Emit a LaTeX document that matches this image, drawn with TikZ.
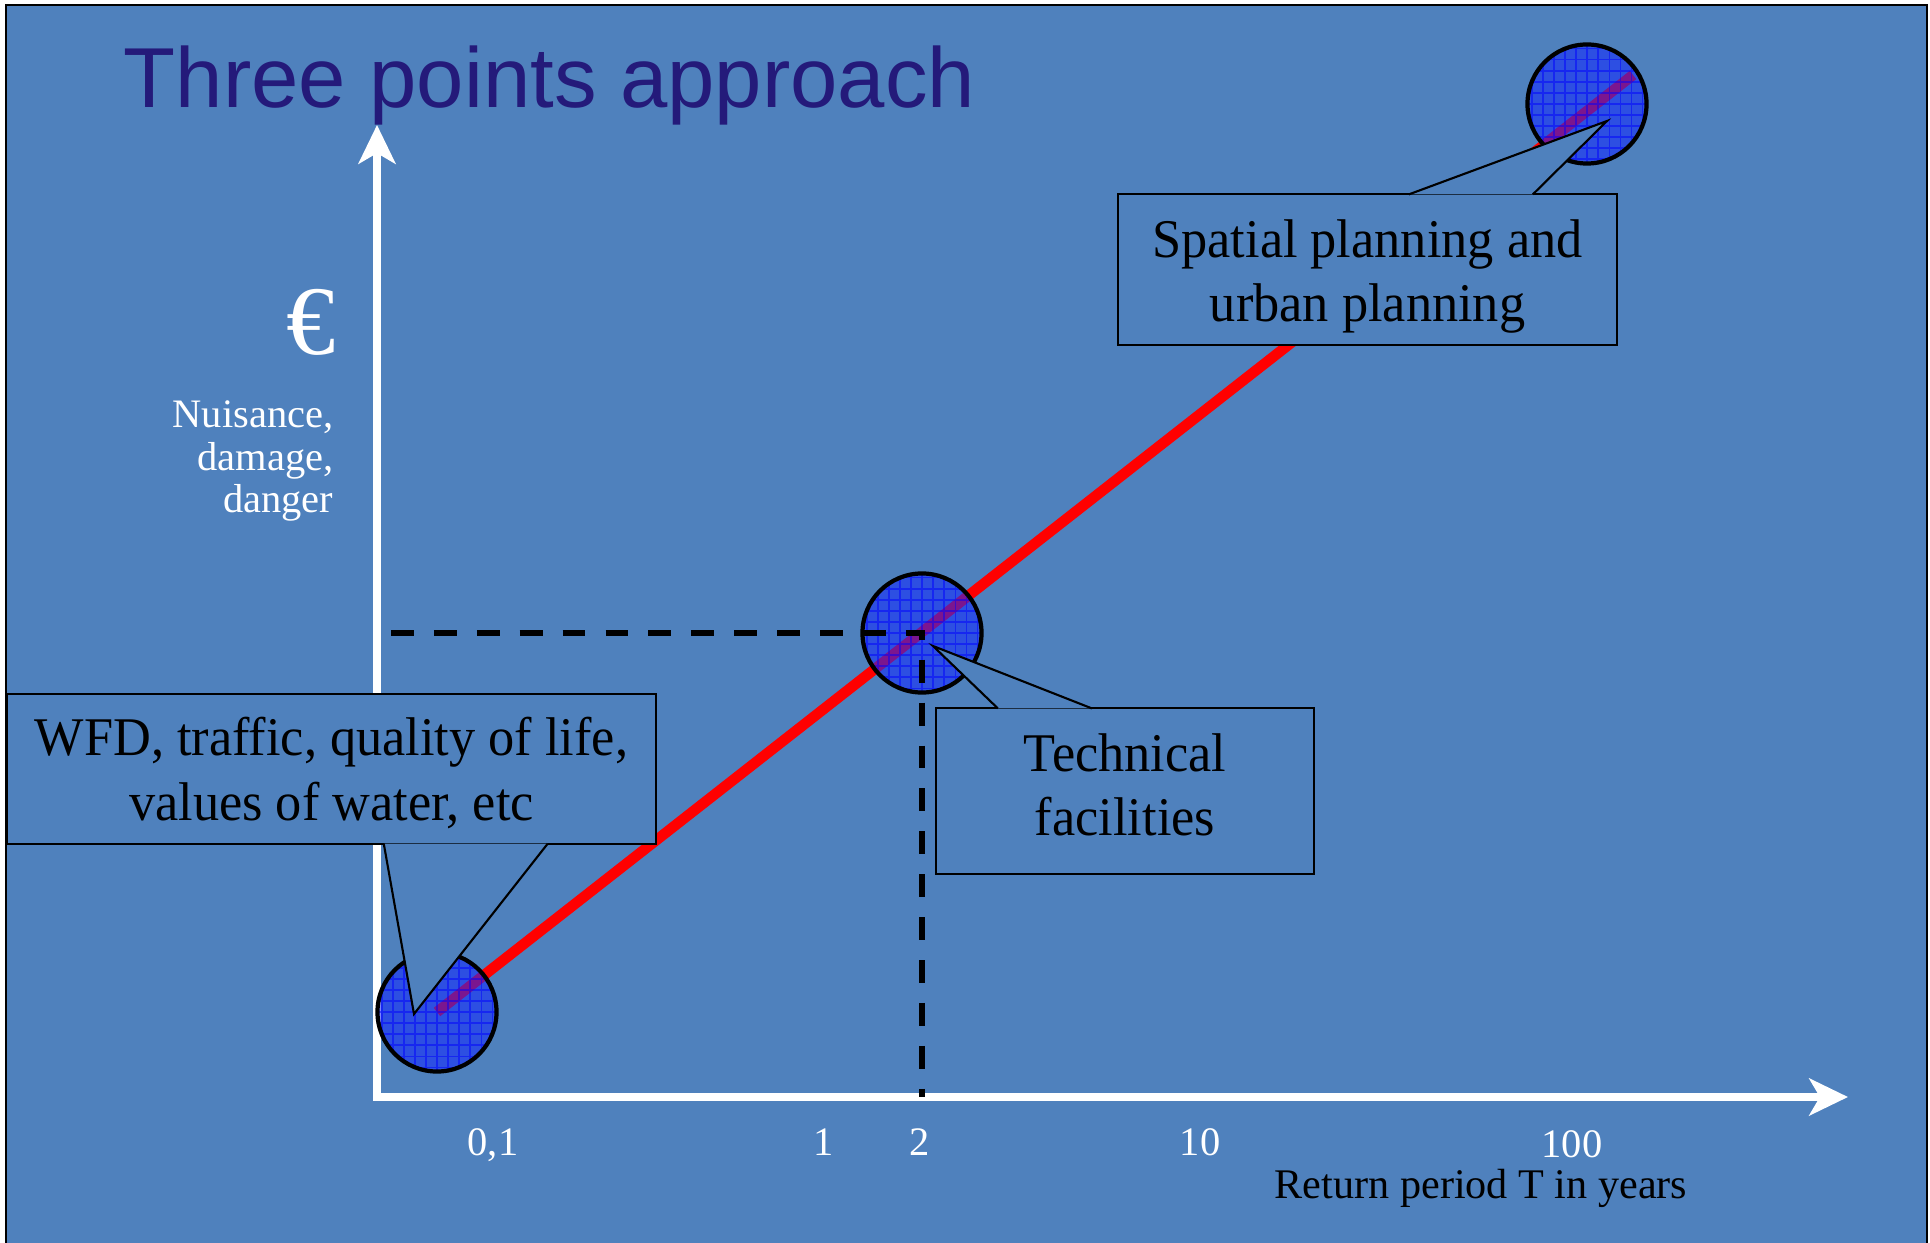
\documentclass[tikz,border=0pt]{standalone}
\usepackage{fontspec}
\setmainfont{Liberation Serif}
\newfontfamily\titlefont{Liberation Sans}
\newfontfamily\boxfont[FakeStretch=0.96]{Liberation Serif}
\usetikzlibrary{
    positioning,  % For placing nodes relative to each other (e.g., below=of)
    arrows.meta,  % For the axis arrow tips (Stealth)
    calc          % For offsets from nodes (pointer tips, pointer bases)
}
\definecolor{slide_blue}{RGB}{79,129,189}
\definecolor{title_navy}{RGB}{36,26,122}
\definecolor{dot_blue}{RGB}{20,40,255}
\definecolor{grid_blue}{RGB}{0,0,255}

\begin{document}
\begin{tikzpicture}[
    % One unit is one pixel of the slide, y pointing downwards
    x=0.01cm, y=-0.01cm,
    % White axes with arrow tips at both free ends
    axis_style/.style={
        draw=white,
        line width=2.3pt,
        {Stealth[length=11pt, width=10.5pt, inset=3pt]}-{Stealth[length=11pt, width=10.5pt, inset=3pt]}
    },
    % The red line through the three points
    trend_style/.style={
        draw=red,
        line width=3pt
    },
    % Dashed help lines to the middle point
    dash_style/.style={
        draw=black,
        line width=1.7pt,
        dash pattern=on 6.5pt off 5.7pt
    },
    % Chequered blue points
    dot_style/.style={
        circle,
        minimum size=1.19cm,
        inner sep=0pt,
        draw=black,
        line width=1.2pt,
        fill=dot_blue,
        fill opacity=0.56,
        path picture={
            \draw[grid_blue, line width=0.3pt, draw opacity=0.5]
                (path picture bounding box.south west) grid[step=0.11cm]
                (path picture bounding box.north east);
        }
    },
    % Boxes of the callouts
    callout_box/.style={
        draw=black,
        line width=0.6pt,
        fill=slide_blue,
        inner sep=0pt
    },
    box_text/.style={
        inner sep=0pt,
        align=center,
        font=\boxfont\fontsize{15.5}{18.2}\selectfont
    },
    % Pointers of the callouts (filled, open at the base)
    pointer_style/.style={
        draw=black,
        line width=0.6pt,
        fill=slide_blue
    },
    % White texts along the axes
    axis_text/.style={
        text=white,
        inner sep=0pt
    },
    tick_label/.style={
        axis_text,
        anchor=base,
        font=\fontsize{11.5}{13}\selectfont
    }
]
    % 1. Slide background and frame.
    \useasboundingbox (0,0) rectangle (1930,1243);
    \fill[white] (0,0) rectangle (1930,1243);
    \draw[black, line width=0.5pt, fill=slide_blue] (6,5) rectangle (1927,1270);

    % 2. Title.
    \node[anchor=base west, inner sep=0pt, text=title_navy,
          font=\titlefont\fontsize{24.2}{29}\selectfont] (title) at (123,108) {Three points approach};

    % 3. Axes.
    \coordinate (x_origin) at (377,1097);
    \coordinate (y_tip) at (377,125);
    \coordinate (x_tip) at (1848,1097);
    \draw[axis_style] (y_tip) -- (x_origin) -- (x_tip);

    % 4. Red line first, the points on top of it.
    \coordinate (low_c) at (437,1012);
    \coordinate (trend_end) at (1633,75);
    \draw[trend_style] (low_c) -- (trend_end);
    \node[dot_style] (p_low) at (low_c) {};
    \node[dot_style] (p_mid) at (922,633) {};
    \node[dot_style] (p_high) at (1587,104) {};

    % 5. Dashed lines to the middle point.
    \coordinate (dash_start) at (391,633);
    \draw[dash_style] (dash_start) -- (p_mid.center) -- (p_mid.center |- x_origin);

    % 6. Callouts with their pointers, then their texts.
    \node[callout_box, minimum width=6.49cm, minimum height=1.50cm] (wfd_box) at (331.5,769) {};
    \coordinate (wfd_tip) at ($(p_low.center)+(-23,2)$);
    \draw[pointer_style] ($(wfd_box.south west)+(378,-1.5)$) -- (wfd_tip) -- ($(wfd_box.south west)+(542,-1.5)$);
    \node[box_text] (wfd_text) at ($(wfd_box.center)+(0,4)$) {WFD, traffic, quality of life,\\values of water, etc};

    \node[callout_box, minimum width=3.78cm, minimum height=1.66cm] (tech_box) at (1125,791) {};
    \coordinate (tech_tip) at ($(p_mid.center)+(11,13)$);
    \draw[pointer_style] ($(tech_box.north west)+(63,1.5)$) -- (tech_tip) -- ($(tech_box.north west)+(157,1.5)$);
    \node[box_text] (tech_text) at ($(tech_box.center)+(0,-6)$) {Technical\\facilities};

    \node[callout_box, minimum width=4.99cm, minimum height=1.51cm] (spatial_box) at (1367.5,269.5) {};
    \coordinate (spatial_tip) at ($(p_high.center)+(20,17)$);
    \draw[pointer_style] ($(spatial_box.north west)+(292,1.5)$) -- (spatial_tip) -- ($(spatial_box.north west)+(416,1.5)$);
    \node[box_text] (spatial_text) at ($(spatial_box.center)+(0,7)$) {Spatial planning and\\urban planning};

    % 7. Labels of the axes.
    \node[axis_text, font=\fontsize{28}{32}\selectfont] (euro_sign) at (311,322) {€};
    \node[axis_text, align=right, anchor=north east, font=\fontsize{11.5}{12.1}\selectfont]
        (y_label) at (334,400) {Nuisance,\\damage,\\danger};

    \node[tick_label] (tick_01) at (493,1155) {0,1};
    \node[tick_label] (tick_1) at (824,1155) {1};
    \node[tick_label] (tick_2) at (920,1155) {2};
    \node[tick_label] (tick_10) at (1200,1155) {10};
    \node[tick_label] (tick_100) at (1572,1157) {100};
    \node[anchor=base, inner sep=0pt, font=\fontsize{12}{14}\selectfont] (x_label) at (1481,1198)
        {Return period T in years};

\end{tikzpicture}
\end{document}
